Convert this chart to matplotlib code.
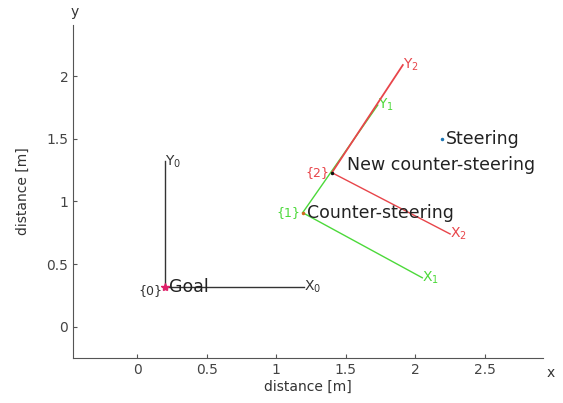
import matplotlib
matplotlib.use("Agg")
import matplotlib.pyplot as plt

# frame origins and axis end points (x axis end, y axis end)
frame_names = ["0", "1", "2"]
frame_origin_x = [0.2, 1.19, 1.40]
frame_origin_y = [0.32, 0.91, 1.23]
xaxis_end_x = [1.2, 2.05, 2.25]
xaxis_end_y = [0.32, 0.39, 0.74]
yaxis_end_x = [0.2, 1.73, 1.91]
yaxis_end_y = [1.32, 1.77, 2.09]
frame_colors = ["#333333", "#4cd93a", "#e8454a"]

# points of interest
point_names = ["Goal", "Counter-steering", "New counter-steering", "Steering"]
point_x = [0.2, 1.19, 1.40, 2.19]
point_y = [0.32, 0.91, 1.23, 1.50]
point_colors = ["#e0206a", "#d2691e", "#111111", "#1f77b4"]
point_markers = ["*", ".", ".", "."]

xticks = [0, 0.5, 1, 1.5, 2, 2.5]
yticks = [0, 0.5, 1, 1.5, 2]

fig = plt.figure(figsize=(5.63, 4.03), dpi=100)
ax = fig.add_axes([0.130, 0.112, 0.835, 0.826])

for i in range(len(frame_names)):
    c = frame_colors[i]
    z = 2 + i
    ax.plot([frame_origin_x[i], xaxis_end_x[i]], [frame_origin_y[i], xaxis_end_y[i]], color=c, lw=1, zorder=z)
    ax.plot([frame_origin_x[i], yaxis_end_x[i]], [frame_origin_y[i], yaxis_end_y[i]], color=c,
            lw=1.3 if i == 2 else 1, zorder=z)
    ax.text(xaxis_end_x[i], xaxis_end_y[i], f"X$_{frame_names[i]}$", color=c,
            fontsize=10, ha="left", va="center")
    ax.text(yaxis_end_x[i], yaxis_end_y[i], f"Y$_{frame_names[i]}$", color=c,
            fontsize=10, ha="left", va="center")

# frame names next to the origins
ax.text(frame_origin_x[0] - 0.02, frame_origin_y[0] - 0.03, "{0}", color="#333333",
        fontsize=9, ha="right", va="center")
ax.text(frame_origin_x[1] - 0.02, frame_origin_y[1], "{1}", color=frame_colors[1],
        fontsize=9, ha="right", va="center")
ax.text(frame_origin_x[2] - 0.02, frame_origin_y[2], "{2}", color=frame_colors[2],
        fontsize=9, ha="right", va="center")

for i in range(len(point_names)):
    ms = 6 if point_markers[i] == "*" else 3
    ax.plot(point_x[i], point_y[i], marker=point_markers[i], color=point_colors[i],
            ms=ms, ls="none", zorder=6)
    dy = 0.06 if point_names[i] == "New counter-steering" else 0
    dx = 0.11 if point_names[i] == "New counter-steering" else 0.03
    ax.text(point_x[i] + dx, point_y[i] + dy, point_names[i], color="#222222",
            fontsize=12.5, ha="left", va="center", zorder=7)

ax.set_xlim(-0.46, 2.92)
ax.set_ylim(-0.25, 2.41)
ax.set_xticks(xticks)
ax.set_xticklabels([f"{t:g}" for t in xticks])
ax.set_yticks(yticks)
ax.set_yticklabels([f"{t:g}" for t in yticks])
ax.tick_params(direction="in", length=3, color="#555555", labelcolor="#444444", labelsize=10)
for s in ["top", "right"]:
    ax.spines[s].set_visible(False)
for s in ["left", "bottom"]:
    ax.spines[s].set_color("#555555")

ax.set_xlabel("distance [m]", fontsize=10, color="#333333", labelpad=2)
ax.set_ylabel("distance [m]", fontsize=10, color="#333333", labelpad=12)
ax.annotate("x", xy=(1.0, 0), xytext=(5, -11), xycoords="axes fraction",
            textcoords="offset points", fontsize=10, color="#333333", ha="center", va="center")
ax.annotate("y", xy=(0, 1.0), xytext=(1, 9), xycoords="axes fraction",
            textcoords="offset points", fontsize=10, color="#333333", ha="center", va="center")

plt.savefig("out.png", dpi=100)
